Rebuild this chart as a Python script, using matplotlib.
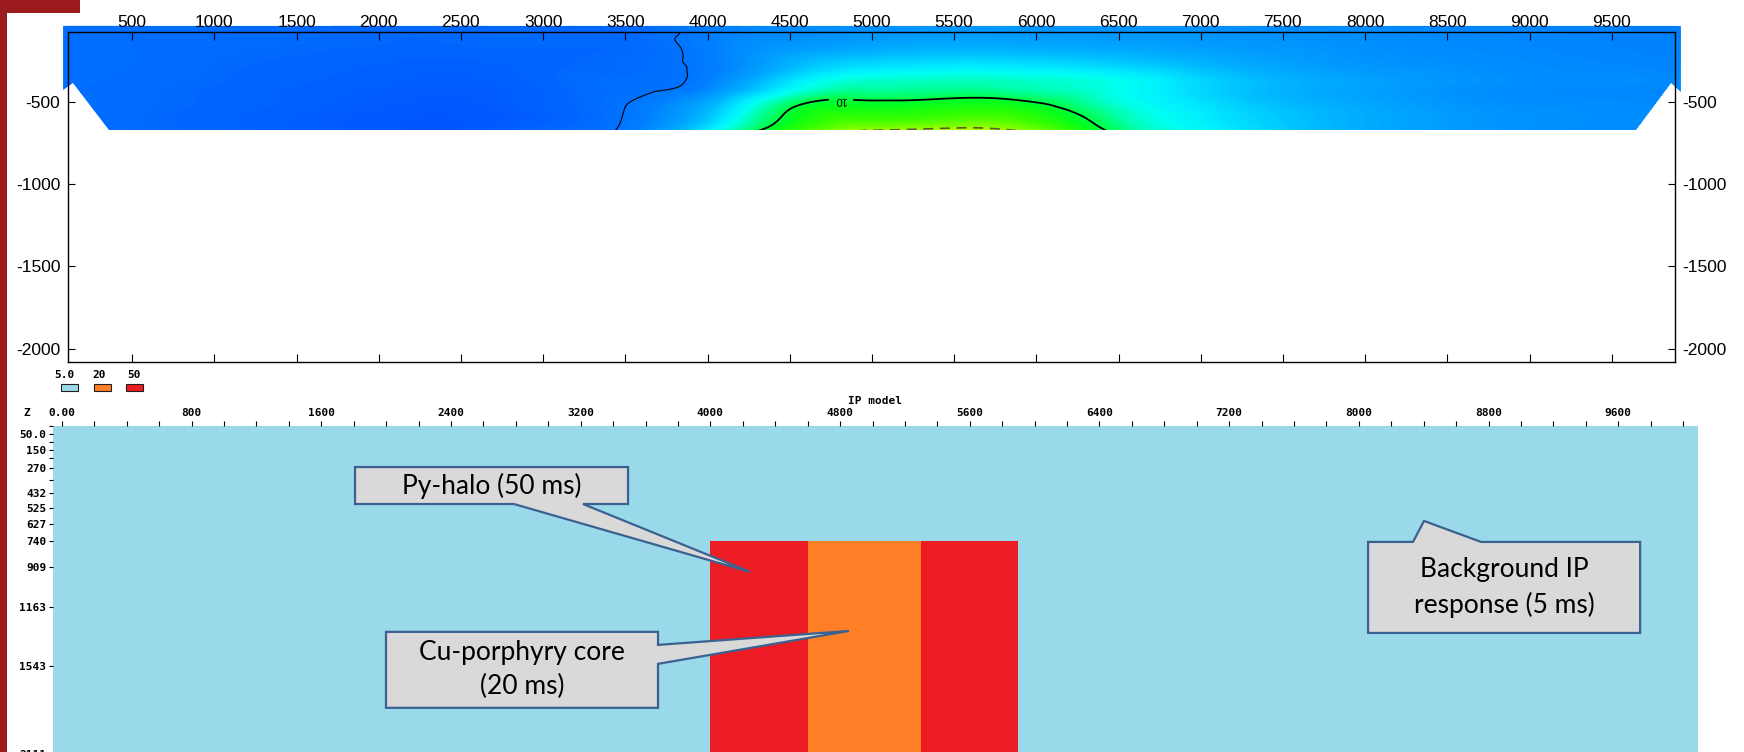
import numpy as np
import matplotlib
matplotlib.use("Agg")
import matplotlib.pyplot as plt
import matplotlib.patches as patches
import matplotlib.tri as mtri
from matplotlib.colors import LinearSegmentedColormap, Normalize

plt.rcParams['font.family'] = ['Liberation Sans', 'DejaVu Sans']
plt.rcParams['axes.unicode_minus'] = False

# ---- inverted chargeability section (ms) ----
grid_x = [0, 500, 1000, 1500, 2000, 2500, 3000, 3500, 4000, 4500, 5000,
          5500, 6000, 6500, 7000, 7500, 8000, 8500, 9000, 9500, 10000]
grid_z = [-35, -150, -270, -400, -530, -675]
chargeability = [
    [4.8, 4.8, 4.7, 4.6, 4.6, 4.6, 4.6, 4.5, 5.5, 5.9, 6.1, 6.2, 6.2, 6.1, 6.0, 5.9, 5.8, 5.7, 5.6, 5.5, 5.4],
    [4.8, 4.7, 4.6, 4.5, 4.4, 4.4, 4.5, 4.5, 5.4, 6.2, 6.6, 6.8, 6.7, 6.6, 6.4, 6.2, 6.0, 5.8, 5.7, 5.6, 5.5],
    [4.8, 4.7, 4.5, 4.3, 4.1, 4.0, 4.3, 4.55, 5.3, 7.0, 7.8, 8.0, 7.9, 7.6, 7.1, 6.6, 6.2, 6.0, 5.8, 5.7, 5.6],
    [4.8, 4.6, 4.4, 4.1, 3.9, 3.8, 4.2, 4.75, 5.6, 8.2, 9.2, 9.3, 9.1, 8.7, 7.8, 7.1, 6.6, 6.2, 5.9, 5.8, 5.7],
    [4.8, 4.6, 4.3, 4.0, 3.7, 3.6, 4.1, 5.0, 7.0, 9.9, 10.4, 10.6, 10.3, 9.0, 8.1, 7.3, 6.8, 6.3, 6.0, 5.9, 5.8],
    [4.8, 4.6, 4.3, 3.9, 3.6, 3.5, 4.4, 5.2, 8.2, 10.8, 12.05, 12.35, 11.7, 9.7, 8.5, 7.6, 6.9, 6.4, 6.1, 5.9, 5.8],
]

# edge of the data coverage of the section
cover_x = [80, 9921, 9921, 9861, 9648, 359, 140, 80]
cover_z = [-38, -38, -440, -385, -671, -671, -385, -428]

section_xticks = list(range(500, 10000, 500))
section_zticks = [-2000, -1500, -1000, -500]

# colour scale of the section
scale_ms = [3.4, 4.0, 4.6, 5.0, 5.5, 6.0, 6.5, 7.0, 7.6, 8.2, 8.7, 9.3, 9.8,
            10.3, 11.0, 11.8, 12.5, 13.2]
scale_colors = ['#0056ff', '#0060ff', '#006aff', '#0074ff', '#0080ff', '#0090ff',
                '#009eff', '#00b0ff', '#00ccff', '#00ecff', '#00fff0', '#00ffa8',
                '#00ff60', '#00ff20', '#30ff00', '#80ff00', '#c0ff00', '#f0ff00']

# ---- forward IP model (ms) ----
block_left = [-55, 4000, 4600, 5300]
block_right = [10092, 4600, 5300, 5900]
block_top = [0, 740, 740, 740]
block_base = [2400, 2400, 2400, 2400]
block_ms = [5, 50, 20, 50]
ms_colors = {5: '#99d9ea', 20: '#ff7f27', 50: '#ed1c24'}

legend_ms = [5, 20, 50]
legend_labels = ['5.0', '20', '50']

model_xticks = list(range(0, 10001, 800))
model_xminor = list(range(0, 10001, 200))
depth_ticks = [50, 150, 270, 432, 525, 627, 740, 909, 1163, 1543, 2111]
depth_labels = ['50.0', '150', '270', '432', '525', '627', '740', '909', '1163', '1543', '2111']
depth_minor = [0, 100, 205, 345]

W, H = 1744, 752
MONO = dict(family='DejaVu Sans Mono', weight='bold', fontsize=8)


def frac(x0, y0, x1, y1):
    # pixel box (top-left origin) -> figure fraction rect
    return [x0 / W, 1 - y1 / H, (x1 - x0) / W, (y1 - y0) / H]


def callout(ax, box, wedge, tip, text, side):
    x0, d0, x1, d1 = box
    b0, b1 = wedge
    if side == 'bottom':
        pts = [(x0, d0), (x1, d0), (x1, d1), (b1, d1), tip, (b0, d1), (x0, d1)]
    elif side == 'right':
        pts = [(x0, d0), (x1, d0), (x1, b0), tip, (x1, b1), (x1, d1), (x0, d1)]
    else:
        pts = [(x0, d0), (b0, d0), tip, (b1, d0), (x1, d0), (x1, d1), (x0, d1)]
    ax.add_patch(patches.Polygon(pts, closed=True, facecolor='#d9d9d9',
                                 edgecolor='#3b6190', linewidth=1.6,
                                 zorder=5, clip_on=False))
    ax.text((x0 + x1) / 2, (d0 + d1) / 2, text, ha='center', va='center',
            fontsize=19, family='Lato', linespacing=1.45, zorder=6)


fig = plt.figure(figsize=(W / 100, H / 100), dpi=100)

# slide decoration on the left
fig.add_artist(patches.Rectangle((0, 0), 7 / W, 1, transform=fig.transFigure,
                                 facecolor='#9b1b1f', edgecolor='none'))
fig.add_artist(patches.Rectangle((0, 1 - 13 / H), 80 / W, 13 / H, transform=fig.transFigure,
                                 facecolor='#9b1b1f', edgecolor='none'))

# ---------------- top panel: inversion result ----------------
ax1 = fig.add_axes(frac(68, 32, 1675, 362))
ax1.set_xlim(110, 9885)
ax1.set_ylim(-2082, -75)

vmin, vmax = scale_ms[0], scale_ms[-1]
cmap = LinearSegmentedColormap.from_list(
    'ip', [((v - vmin) / (vmax - vmin), c) for v, c in zip(scale_ms, scale_colors)])
norm = Normalize(vmin, vmax)

# smooth the grid with a cubic refinement; depth is stretched so the cells
# are roughly square while interpolating, then mapped back
zstretch = 3.8
gx, gz = np.meshgrid(grid_x, grid_z)
tri = mtri.Triangulation(gx.ravel(), gz.ravel() * zstretch)
vals = np.array(chargeability).ravel()
tri_s, val_f = mtri.UniformTriRefiner(tri).refine_field(vals, subdiv=4)
tri_f = mtri.Triangulation(tri_s.x, tri_s.y / zstretch, tri_s.triangles)

outline = patches.Polygon(list(zip(cover_x, cover_z)), closed=True, transform=ax1.transData)
cf = ax1.tricontourf(tri_f, val_f, levels=np.linspace(3.0, 13.6, 107), cmap=cmap,
                     norm=norm, extend='both', antialiased=False)
cf.set_clip_path(outline)
cf.set_clip_box(None)

c5 = ax1.tricontour(tri_f, val_f, levels=[5], colors='k', linewidths=0.8)
c5.set_clip_path(outline)
c10 = ax1.tricontour(tri_f, val_f, levels=[10], colors='k', linewidths=1.3)
c10.set_clip_path(outline)
ax1.clabel(c10, fmt='%d', fontsize=8, inline=True, inline_spacing=6,
           manual=[(4812, -478)], rightside_up=False)
c12 = ax1.tricontour(tri_f, val_f, levels=[12], colors='#5c5c30', linewidths=1.2,
                     linestyles=[(0, (6, 4))])
c12.set_clip_path(outline)

ax1.set_xticks(section_xticks)
ax1.set_yticks(section_zticks)
ax1.tick_params(axis='x', top=True, bottom=True, labeltop=True, labelbottom=False,
                direction='in', length=6, width=0.8, pad=1.5, labelsize=12.5)
ax1.tick_params(axis='y', left=True, right=True, labelleft=True, labelright=True,
                direction='in', length=5, width=0.8, pad=5.5, labelsize=12.5)
for sp in ax1.spines.values():
    sp.set_linewidth(1.0)
ax1.set_facecolor('none')

# ---------------- bottom panel: IP model ----------------
ax2 = fig.add_axes(frac(53, 426.2, 1698, 799))
ax2.set_xlim(-55, 10092)
ax2.set_ylim(2400, 0)

for left, right, top, base, ms in zip(block_left, block_right, block_top, block_base, block_ms):
    ax2.bar(left, base - top, width=right - left, bottom=top, align='edge',
            color=ms_colors[ms], linewidth=0)

ax2.set_xticks(model_xticks)
ax2.set_xticks(model_xminor, minor=True)
ax2.set_xticklabels(['0.00'] + [str(v) for v in model_xticks[1:]], **MONO)
ax2.set_yticks(depth_ticks)
ax2.set_yticks(depth_minor, minor=True)
ax2.set_yticklabels(depth_labels, **MONO)
ax2.tick_params(axis='x', which='both', top=True, bottom=False, labeltop=True,
                labelbottom=False, direction='out', length=3.6, width=0.8, pad=2)
ax2.tick_params(axis='y', which='both', left=True, direction='out', length=2.9,
                width=0.8, pad=2)
for sp in ax2.spines.values():
    sp.set_visible(False)

fig.text(875 / W, 1 - 401 / H, 'IP model', ha='center', va='center', **MONO)
fig.text(27 / W, 1 - 413 / H, 'Z', ha='center', va='center', **MONO)

# legend of model values
legend_x = [61, 94, 126]
text_x = [64, 99, 134]
for bx, tx, ms, lab in zip(legend_x, text_x, legend_ms, legend_labels):
    fig.add_artist(patches.Rectangle((bx / W, 1 - 391 / H), 17 / W, 7 / H,
                                     transform=fig.transFigure, facecolor=ms_colors[ms],
                                     edgecolor='#202020', linewidth=0.8))
    fig.text(tx / W, 1 - 375 / H, lab, ha='center', va='center', **MONO)

callout(ax2, (1808, 263, 3492, 501), (2788, 3214), (4244, 938),
        'Py-halo (50 ms)', 'bottom')
callout(ax2, (1999, 1324, 3677, 1813), (1408, 1530), (4855, 1318),
        'Cu-porphyry core\n(20 ms)', 'right')
callout(ax2, (8057, 745, 9735, 1331), (8334, 8754), (8402, 610),
        'Background IP\nresponse (5 ms)', 'top')

fig.savefig('out.png', dpi=100)
